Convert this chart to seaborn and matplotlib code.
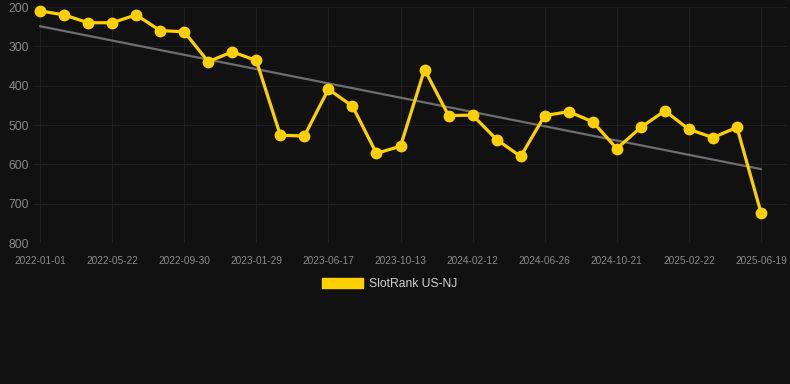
import matplotlib
matplotlib.use("Agg")
import matplotlib.pyplot as plt
from matplotlib.patches import Patch
import numpy as np
import pandas as pd
import seaborn as sns

# data (rank, lower is better)
tick_labels = ["2022-01-01", "2022-05-22", "2022-09-30", "2023-01-29", "2023-06-17",
               "2023-10-13", "2024-02-12", "2024-06-26", "2024-10-21", "2025-02-22",
               "2025-06-19"]
rank = [210, 220, 240, 240, 220, 260, 263, 339, 314, 336,
        526, 528, 409, 452, 572, 554, 359, 476, 475, 537,
        580, 476, 466, 492, 560, 506, 464, 511, 532, 506,
        723]
series_name = "SlotRank US-NJ"

df = pd.DataFrame({"idx": np.arange(len(rank)), "rank": rank})

bg = "#111111"
gold = "#FFD000"
grid = "#1f1f1f"
txt = "#8a8a8a"

sns.set_theme(style="dark", rc={
    "axes.facecolor": bg, "figure.facecolor": bg,
    "axes.edgecolor": bg, "grid.color": grid,
})
plt.rcParams["font.family"] = ["Liberation Sans", "DejaVu Sans"]

fig = plt.figure(figsize=(7.9, 3.84), dpi=100)
ax = fig.add_axes([33 / 790, 1 - 243 / 384, (787 - 33) / 790, (243 - 7) / 384])

# trend line
sns.regplot(data=df, x="idx", y="rank", ax=ax, scatter=False, ci=None,
            line_kws={"color": "#6e6e6e", "lw": 1.6, "zorder": 2})
# series
sns.lineplot(data=df, x="idx", y="rank", ax=ax, color=gold, lw=2.3,
             marker="o", markersize=8.5, markeredgewidth=0, zorder=3,
             clip_on=False)

px = (761 - 40) / 30
ax.set_xlim(-(40 - 33) / px, 30 + (787 - 761) / px)
ax.set_ylim(800, 200)
ax.set_yticks([200, 300, 400, 500, 600, 700, 800])
ax.set_xticks(np.arange(0, len(rank), 3))
ax.set_xticklabels(tick_labels)
ax.grid(True, color=grid, lw=0.8)
ax.axhline(800, color="#2a2a2a", lw=0.8, zorder=1)
ax.tick_params(axis="x", colors=txt, labelsize=7.3, pad=9, length=0)
ax.tick_params(axis="y", colors=txt, labelsize=8.8, pad=3, length=0)
ax.set_xlabel("")
ax.set_ylabel("")
for s in ax.spines.values():
    s.set_visible(False)

fig.legend(handles=[Patch(facecolor=gold, edgecolor=gold)], labels=[series_name],
           loc="center", bbox_to_anchor=(390 / 790, 1 - 284 / 384),
           frameon=False, fontsize=8.7, labelcolor="#d0d0d0",
           handlelength=3.4, handleheight=0.9, handletextpad=0.5)

fig.savefig("out.png", dpi=100, facecolor=bg)
